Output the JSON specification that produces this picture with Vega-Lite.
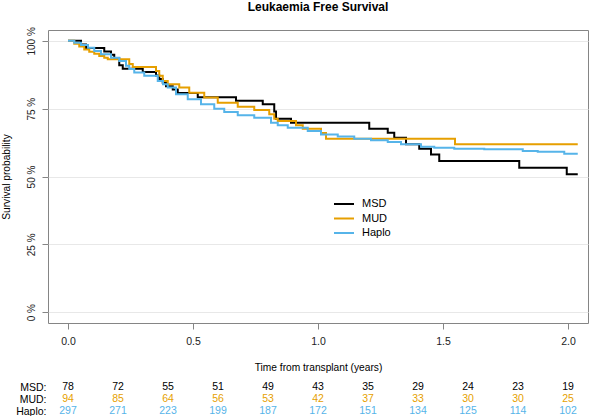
{
  "$schema": "https://vega.github.io/schema/vega-lite/v6.json",
  "padding": {"left": 0, "top": 0, "right": 0, "bottom": 0},
  "config": {
    "font": "Liberation Sans",
    "view": {"stroke": "#858585", "strokeWidth": 1},
    "axis": {"labelFont": "Liberation Sans", "titleFont": "Liberation Sans"}
  },
  "datasets": {
    "curves": [
      {"group": "MSD", "time": 0, "surv": 1},
      {"group": "MSD", "time": 0.052, "surv": 0.987},
      {"group": "MSD", "time": 0.072, "surv": 0.974},
      {"group": "MSD", "time": 0.145, "surv": 0.961},
      {"group": "MSD", "time": 0.172, "surv": 0.949},
      {"group": "MSD", "time": 0.185, "surv": 0.936},
      {"group": "MSD", "time": 0.205, "surv": 0.910},
      {"group": "MSD", "time": 0.219, "surv": 0.897},
      {"group": "MSD", "time": 0.299, "surv": 0.885},
      {"group": "MSD", "time": 0.352, "surv": 0.872},
      {"group": "MSD", "time": 0.365, "surv": 0.859},
      {"group": "MSD", "time": 0.379, "surv": 0.846},
      {"group": "MSD", "time": 0.392, "surv": 0.833},
      {"group": "MSD", "time": 0.419, "surv": 0.821},
      {"group": "MSD", "time": 0.439, "surv": 0.808},
      {"group": "MSD", "time": 0.519, "surv": 0.792},
      {"group": "MSD", "time": 0.672, "surv": 0.779},
      {"group": "MSD", "time": 0.779, "surv": 0.766},
      {"group": "MSD", "time": 0.825, "surv": 0.740},
      {"group": "MSD", "time": 0.832, "surv": 0.713},
      {"group": "MSD", "time": 0.892, "surv": 0.698},
      {"group": "MSD", "time": 1.205, "surv": 0.676},
      {"group": "MSD", "time": 1.279, "surv": 0.661},
      {"group": "MSD", "time": 1.305, "surv": 0.643},
      {"group": "MSD", "time": 1.352, "surv": 0.619},
      {"group": "MSD", "time": 1.405, "surv": 0.602},
      {"group": "MSD", "time": 1.452, "surv": 0.581},
      {"group": "MSD", "time": 1.485, "surv": 0.557},
      {"group": "MSD", "time": 1.805, "surv": 0.532},
      {"group": "MSD", "time": 1.995, "surv": 0.508},
      {"group": "MSD", "time": 2.039, "surv": 0.508},
      {"group": "MUD", "time": 0, "surv": 1},
      {"group": "MUD", "time": 0.025, "surv": 0.989},
      {"group": "MUD", "time": 0.045, "surv": 0.979},
      {"group": "MUD", "time": 0.065, "surv": 0.968},
      {"group": "MUD", "time": 0.085, "surv": 0.960},
      {"group": "MUD", "time": 0.105, "surv": 0.952},
      {"group": "MUD", "time": 0.125, "surv": 0.944},
      {"group": "MUD", "time": 0.145, "surv": 0.938},
      {"group": "MUD", "time": 0.159, "surv": 0.932},
      {"group": "MUD", "time": 0.245, "surv": 0.915},
      {"group": "MUD", "time": 0.259, "surv": 0.904},
      {"group": "MUD", "time": 0.352, "surv": 0.889},
      {"group": "MUD", "time": 0.365, "surv": 0.871},
      {"group": "MUD", "time": 0.379, "surv": 0.852},
      {"group": "MUD", "time": 0.399, "surv": 0.840},
      {"group": "MUD", "time": 0.445, "surv": 0.828},
      {"group": "MUD", "time": 0.485, "surv": 0.809},
      {"group": "MUD", "time": 0.545, "surv": 0.791},
      {"group": "MUD", "time": 0.599, "surv": 0.772},
      {"group": "MUD", "time": 0.679, "surv": 0.757},
      {"group": "MUD", "time": 0.745, "surv": 0.745},
      {"group": "MUD", "time": 0.805, "surv": 0.729},
      {"group": "MUD", "time": 0.825, "surv": 0.713},
      {"group": "MUD", "time": 0.839, "surv": 0.705},
      {"group": "MUD", "time": 0.912, "surv": 0.689},
      {"group": "MUD", "time": 0.939, "surv": 0.676},
      {"group": "MUD", "time": 1.012, "surv": 0.660},
      {"group": "MUD", "time": 1.032, "surv": 0.639},
      {"group": "MUD", "time": 1.548, "surv": 0.619},
      {"group": "MUD", "time": 2.039, "surv": 0.619},
      {"group": "Haplo", "time": 0, "surv": 1},
      {"group": "Haplo", "time": 0.025, "surv": 0.993},
      {"group": "Haplo", "time": 0.052, "surv": 0.985},
      {"group": "Haplo", "time": 0.080, "surv": 0.975},
      {"group": "Haplo", "time": 0.105, "surv": 0.963},
      {"group": "Haplo", "time": 0.132, "surv": 0.951},
      {"group": "Haplo", "time": 0.172, "surv": 0.938},
      {"group": "Haplo", "time": 0.205, "surv": 0.926},
      {"group": "Haplo", "time": 0.232, "surv": 0.908},
      {"group": "Haplo", "time": 0.245, "surv": 0.896},
      {"group": "Haplo", "time": 0.265, "surv": 0.883},
      {"group": "Haplo", "time": 0.305, "surv": 0.871},
      {"group": "Haplo", "time": 0.359, "surv": 0.852},
      {"group": "Haplo", "time": 0.380, "surv": 0.840},
      {"group": "Haplo", "time": 0.399, "surv": 0.828},
      {"group": "Haplo", "time": 0.432, "surv": 0.803},
      {"group": "Haplo", "time": 0.479, "surv": 0.785},
      {"group": "Haplo", "time": 0.532, "surv": 0.766},
      {"group": "Haplo", "time": 0.585, "surv": 0.750},
      {"group": "Haplo", "time": 0.625, "surv": 0.738},
      {"group": "Haplo", "time": 0.679, "surv": 0.726},
      {"group": "Haplo", "time": 0.745, "surv": 0.717},
      {"group": "Haplo", "time": 0.812, "surv": 0.698},
      {"group": "Haplo", "time": 0.839, "surv": 0.689},
      {"group": "Haplo", "time": 0.879, "surv": 0.680},
      {"group": "Haplo", "time": 0.959, "surv": 0.668},
      {"group": "Haplo", "time": 1.012, "surv": 0.655},
      {"group": "Haplo", "time": 1.079, "surv": 0.647},
      {"group": "Haplo", "time": 1.145, "surv": 0.639},
      {"group": "Haplo", "time": 1.212, "surv": 0.634},
      {"group": "Haplo", "time": 1.279, "surv": 0.627},
      {"group": "Haplo", "time": 1.332, "surv": 0.619},
      {"group": "Haplo", "time": 1.412, "surv": 0.610},
      {"group": "Haplo", "time": 1.465, "surv": 0.606},
      {"group": "Haplo", "time": 1.545, "surv": 0.602},
      {"group": "Haplo", "time": 1.665, "surv": 0.600},
      {"group": "Haplo", "time": 1.819, "surv": 0.594},
      {"group": "Haplo", "time": 1.879, "surv": 0.591},
      {"group": "Haplo", "time": 1.985, "surv": 0.584},
      {"group": "Haplo", "time": 2.039, "surv": 0.584}
    ],
    "risk": [
      {"group": "MSD", "time": 0.0, "n": 78},
      {"group": "MSD", "time": 0.2, "n": 72},
      {"group": "MSD", "time": 0.4, "n": 55},
      {"group": "MSD", "time": 0.6, "n": 51},
      {"group": "MSD", "time": 0.8, "n": 49},
      {"group": "MSD", "time": 1.0, "n": 43},
      {"group": "MSD", "time": 1.2, "n": 35},
      {"group": "MSD", "time": 1.4, "n": 29},
      {"group": "MSD", "time": 1.6, "n": 24},
      {"group": "MSD", "time": 1.8, "n": 23},
      {"group": "MSD", "time": 2.0, "n": 19},
      {"group": "MUD", "time": 0.0, "n": 94},
      {"group": "MUD", "time": 0.2, "n": 85},
      {"group": "MUD", "time": 0.4, "n": 64},
      {"group": "MUD", "time": 0.6, "n": 56},
      {"group": "MUD", "time": 0.8, "n": 53},
      {"group": "MUD", "time": 1.0, "n": 42},
      {"group": "MUD", "time": 1.2, "n": 37},
      {"group": "MUD", "time": 1.4, "n": 33},
      {"group": "MUD", "time": 1.6, "n": 30},
      {"group": "MUD", "time": 1.8, "n": 30},
      {"group": "MUD", "time": 2.0, "n": 25},
      {"group": "Haplo", "time": 0.0, "n": 297},
      {"group": "Haplo", "time": 0.2, "n": 271},
      {"group": "Haplo", "time": 0.4, "n": 223},
      {"group": "Haplo", "time": 0.6, "n": 199},
      {"group": "Haplo", "time": 0.8, "n": 187},
      {"group": "Haplo", "time": 1.0, "n": 172},
      {"group": "Haplo", "time": 1.2, "n": 151},
      {"group": "Haplo", "time": 1.4, "n": 134},
      {"group": "Haplo", "time": 1.6, "n": 125},
      {"group": "Haplo", "time": 1.8, "n": 114},
      {"group": "Haplo", "time": 2.0, "n": 102}
    ]
  },
  "bounds": "flush",
  "spacing": 58,
  "resolve": {"scale": {"color": "independent"}, "legend": {"color": "independent"}},
  "vconcat": [
    {
      "width": 540,
      "height": 293,
      "title": {"text": "Leukaemia Free Survival", "fontSize": 12, "fontWeight": "bold", "font": "Liberation Sans", "anchor": "middle", "offset": 12.5, "color": "#000"},
      "data": {"name": "curves"},
      "mark": {"type": "line", "interpolate": "step-after", "strokeWidth": 2, "clip": true},
      "encoding": {
        "x": {
          "field": "time", "type": "quantitative",
          "scale": {"domain": [-0.08, 2.08], "nice": false, "zero": false},
          "axis": {
            "values": [0, 0.5, 1, 1.5, 2], "format": ".1f", "grid": false, "domain": false,
            "tickSize": 6, "tickColor": "#858585", "labelPadding": 7.5, "labelFontSize": 10.5, "labelColor": "#222",
            "title": "Time from transplant (years)", "titleFontSize": 10.2, "titleFontWeight": "normal", "titleColor": "#000", "titlePadding": 15.5
          }
        },
        "y": {
          "field": "surv", "type": "quantitative",
          "scale": {"domain": [-0.04, 1.04], "nice": false, "zero": false},
          "axis": {
            "values": [0, 0.25, 0.5, 0.75, 1], "labelExpr": "round(datum.value * 100) + ' %'",
            "grid": true, "gridColor": "#e8e8e8", "domain": false,
            "tickSize": 6, "tickColor": "#858585", "labelAngle": 270, "labelAlign": "center", "labelBaseline": "alphabetic",
            "labelPadding": 8, "labelFontSize": 10, "labelColor": "#222",
            "title": "Survival probability", "titleFontSize": 10.2, "titleFontWeight": "normal", "titleColor": "#000",
            "titleAngle": 270, "titleBaseline": "top", "titleAlign": "center", "titleX": -47, "titleY": 146.5
          }
        },
        "color": {
          "field": "group", "type": "nominal",
          "scale": {"domain": ["MSD", "MUD", "Haplo"], "range": ["#000000", "#E69F00", "#56B4E9"]},
          "legend": {
            "orient": "none", "legendX": 290, "legendY": 168, "title": null, "padding": 0,
            "symbolType": "M-2,0H2", "symbolSize": 100, "symbolStrokeWidth": 2,
            "labelFontSize": 11, "labelOffset": 12, "rowPadding": 3.5, "labelColor": "#000", "labelFont": "Liberation Sans"
          }
        }
      }
    },
    {
      "width": 540,
      "height": 36,
      "view": {"stroke": null},
      "data": {"name": "risk"},
      "mark": {"type": "text", "fontSize": 10.5, "font": "Liberation Sans"},
      "encoding": {
        "x": {"field": "time", "type": "quantitative", "scale": {"domain": [-0.08, 2.08], "nice": false, "zero": false}, "axis": null},
        "y": {
          "field": "group", "type": "nominal",
          "scale": {"domain": ["MSD", "MUD", "Haplo"], "paddingInner": 0, "paddingOuter": 0},
          "axis": {"title": null, "domain": false, "ticks": false, "grid": false, "labelExpr": "datum.value + ':'", "labelPadding": 2, "labelFontSize": 10.5, "labelColor": "#000"}
        },
        "text": {"field": "n", "type": "quantitative"},
        "color": {
          "field": "group", "type": "nominal",
          "scale": {"domain": ["MSD", "MUD", "Haplo"], "range": ["#000000", "#E69F00", "#56B4E9"]},
          "legend": null
        }
      }
    }
  ]
}
